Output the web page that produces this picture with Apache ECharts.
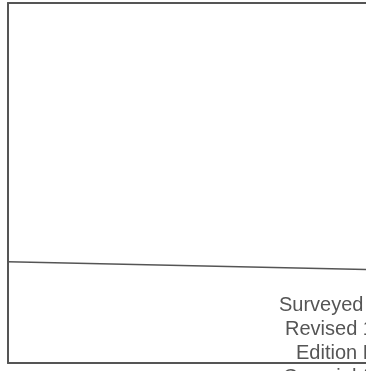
<!DOCTYPE html>
<html>
<head>
<meta charset="utf-8">
<script src="https://cdn.jsdelivr.net/npm/echarts@6/dist/echarts.min.js"></script>
<style>
html,body{margin:0;padding:0;background:#fff;}
#chart{width:366px;height:371px;}
</style>
</head>
<body>
<div id="chart"></div>
<script>
// boundary line across the sheet (x 0..1 across frame, y 0..100 from bottom of frame)
var boundaryX = [0, 1];
var boundaryY = [28.1, 26.0];
// marginal notes, bottom right of the sheet
var noteLines = ['Surveyed 1886', 'Revised 1912', 'Edition Dec. 1914', 'Copyright 1914'];
var noteLeft = [279, 285, 296, 283];

var chart = echarts.init(document.getElementById('chart'));

var lineData = [];
for (var i = 0; i < boundaryX.length; i++) {
	lineData.push([boundaryX[i], boundaryY[i]]);
}

var notes = [];
for (var j = 0; j < noteLines.length; j++) {
	notes.push({
		type: 'text',
		left: noteLeft[j],
		top: 295 + j * 24,
		silent: true,
		style: {
			text: noteLines[j],
			fill: '#555',
			font: '20px "Liberation Sans", Arial, sans-serif'
		}
	});
}

// frame edges drawn as bare axis lines (the sheet continues past the right edge)
var frameLine = {
	onZero: false,
	lineStyle: { color: '#555', width: 2 }
};

var option = {
	animation: false,
	backgroundColor: '#fff',
	grid: {
		left: 8,
		top: 3,
		right: 0,
		bottom: 8
	},
	xAxis: [{
		type: 'value',
		position: 'bottom',
		min: 0,
		max: 1,
		axisLine: frameLine,
		axisTick: { show: false },
		axisLabel: { show: false },
		splitLine: { show: false }
	}, {
		type: 'value',
		position: 'top',
		min: 0,
		max: 1,
		axisLine: frameLine,
		axisTick: { show: false },
		axisLabel: { show: false },
		splitLine: { show: false }
	}],
	yAxis: {
		type: 'value',
		position: 'left',
		min: 0,
		max: 100,
		axisLine: { show: true, onZero: false, lineStyle: { color: '#555', width: 2 } },
		axisTick: { show: false },
		axisLabel: { show: false },
		splitLine: { show: false }
	},
	series: [{
		type: 'line',
		data: lineData,
		symbol: 'none',
		silent: true,
		lineStyle: {
			color: '#555',
			width: 1.5
		}
	}],
	graphic: notes
};
chart.setOption(option);
</script>
</body>
</html>
